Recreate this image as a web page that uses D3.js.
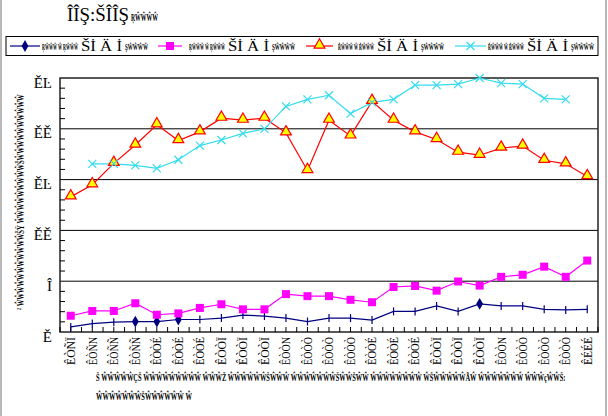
<!DOCTYPE html>
<html><head><meta charset="utf-8">
<script src="https://cdn.jsdelivr.net/npm/d3@7"></script>
<style>
body{margin:0;background:#fff;}
svg{display:block;}
text{font-family:"Liberation Serif","DejaVu Serif",serif;fill:#000;}
</style></head>
<body><svg id="c" width="608" height="416"></svg>
<script>
// ---- data ----
const categories = ["ÊÒÑÏ","ÊÒÑN","ÊÒÑÑ","ÊÒÑÑ","ÊÒÒÉ","ÊÒÒÉ","ÊÒÒÉ","ÊÒÒÏ","ÊÒÒÏ","ÊÒÒÏ","ÊÒÒN","ÊÒÒÒ","ÊÒÒÒ","ÊÒÒÒ","ÊÒÒÉ","ÊÒÒÉ","ÊÒÒÉ","ÊÒÒÏ","ÊÒÒÏ","ÊÒÒÏ","ÊÒÒN","ÊÒÒÒ","ÊÒÒÒ","ÊÒÒÒ","ÊÉÉÉ"];
const seriesNames = ["ŖŴŴŴ Ŵ ŖŴŴŴ","ŖŴŴŴ Ŵ ŖŴŴŴ","ŘŴŴŴ Ŵ ŘŴŴŴ","ŘŴŴŴ Ŵ ŘŴŴŴ"];
const blueValues = [0.5,0.83,0.97,1.03,1.03,1.23,1.23,1.37,1.67,1.57,1.37,1.03,1.37,1.37,1.17,2.03,2.03,2.57,2.03,2.77,2.57,2.57,2.23,2.17,2.23];
const blueMarkers = [0,0,0,1,1,1,0,0,0,0,0,0,0,0,0,0,0,0,0,1,0,0,0,0,0]; // 1 = diamond, 0 = bar
const pinkValues = [1.6,2.07,2.07,2.83,1.7,1.83,2.37,2.73,2.23,2.23,3.73,3.53,3.53,3.17,2.93,4.43,4.53,4.07,4.97,4.57,5.43,5.63,6.43,5.43,7.03];
const redValues = [13.3,14.5,16.6,18.4,20.4,18.85,19.7,21.05,20.85,21.05,19.6,15.9,20.85,19.3,22.7,20.85,19.7,18.95,17.7,17.4,18.1,18.3,16.9,16.55,15.3];
const cyanValues = [null,16.55,16.55,16.4,16.1,16.95,18.35,18.9,19.55,20.0,22.2,22.9,23.3,21.5,22.6,22.9,24.3,24.3,24.4,25.0,24.5,24.4,23.0,22.9,null];
const yTicks = [0,5,10,15,20,25];
const yTickLabels = ["Ě","Î","ĚĚ","ĚĿ","ĚĚ","ĚĿ"];

const svg = d3.select("#c");
const L=60,R=598,T=78,B=332;
const x = d3.scaleBand().domain(d3.range(categories.length)).range([L,R]);
const cx = i => x(i)+x.bandwidth()/2;
const y = d3.scaleLinear().domain([0,25]).range([B,T]);

// place a text squeezed horizontally to a given width (x,y = start of baseline, rot = rotation)
function fitText(str, px, py, width, size, bold, rot){
  const g = svg.append("g").attr("transform",`translate(${px},${py}) rotate(${rot||0})`);
  const t = g.append("text").attr("font-size",size).attr("font-weight",bold?"bold":"normal").text(str);
  const nat = t.node().getComputedTextLength();
  t.attr("transform",`scale(${width/nat},1)`);
  return t;
}

// outer frame
svg.append("line").attr("x1",1).attr("x2",1).attr("y1",0).attr("y2",416).attr("stroke","#b8b8b8").attr("stroke-width",2);
svg.append("line").attr("x1",606).attr("x2",606).attr("y1",0).attr("y2",416).attr("stroke","#b8b8b8").attr("stroke-width",2);

// gridlines
svg.append("g").selectAll("line").data(yTicks.filter(v=>v>0&&v<25)).join("line")
  .attr("x1",L).attr("x2",R).attr("y1",d=>y(d)).attr("y2",d=>y(d)).attr("stroke","#000").attr("stroke-width",1);

// plot border
svg.append("rect").attr("x",L).attr("y",T).attr("width",R-L).attr("height",B-T)
  .attr("fill","none").attr("stroke","#222").attr("stroke-width",1.5);

// y minor ticks (inward)
const yMinor = d3.range(1,25).filter(v=>v%5!==0);
svg.append("g").selectAll("line").data(yMinor).join("line")
  .attr("x1",L).attr("x2",L+5).attr("y1",d=>y(d)).attr("y2",d=>y(d)).attr("stroke","#000");

// y axis labels
const yAxis = d3.axisLeft(y).tickValues(yTicks).tickSize(0).tickPadding(8)
  .tickFormat((d,i)=>yTickLabels[i]);
const gy = svg.append("g").attr("transform",`translate(${L},0)`).call(yAxis);
gy.select(".domain").remove();
gy.selectAll("text").attr("font-size",15).attr("dy","0.6em").style("font-family","Liberation Serif");

// x minor ticks (half band, inward)
const xTickPos = d3.range(0, categories.length*2+1).map(k=>L + k*x.bandwidth()/2);
svg.append("g").selectAll("line").data(xTickPos).join("line")
  .attr("x1",d=>d).attr("x2",d=>d).attr("y1",B).attr("y2",B-5).attr("stroke","#000");

// x labels
const xAxis = d3.axisBottom(x).tickSize(0).tickFormat((d,i)=>categories[i]);
const gx = svg.append("g").attr("transform",`translate(0,${B})`).call(xAxis);
gx.select(".domain").remove();
gx.selectAll("text").attr("transform","rotate(-90)").attr("text-anchor","end")
  .attr("x",-5).attr("y",0).attr("dy","0.35em").attr("font-size",12.5)
  .attr("textLength",28).attr("lengthAdjust","spacingAndGlyphs");

// lines
const line = d3.line().defined(d=>d.v!=null).x(d=>cx(d.i)).y(d=>y(d.v));
const toPts = arr => arr.map((v,i)=>({i,v}));
const colors = ["#000080","#ff00ff","#ff0000","#33dcee"];
[blueValues,pinkValues,redValues,cyanValues].forEach((arr,k)=>{
  svg.append("path").datum(toPts(arr)).attr("d",line).attr("fill","none")
    .attr("stroke",colors[k]).attr("stroke-width",1.2);
});

// markers: blue
toPts(blueValues).forEach(d=>{
  if(blueMarkers[d.i]){
    svg.append("path").attr("d",d3.symbol(d3.symbolDiamond,40)())
      .attr("transform",`translate(${cx(d.i)},${y(d.v)})`).attr("fill","#000080");
  } else {
    svg.append("line").attr("x1",cx(d.i)).attr("x2",cx(d.i)).attr("y1",y(d.v)-4).attr("y2",y(d.v)+4)
      .attr("stroke","#000080").attr("stroke-width",1.2);
  }
});
// pink squares
svg.append("g").selectAll("rect").data(toPts(pinkValues)).join("rect")
  .attr("x",d=>cx(d.i)-4).attr("y",d=>y(d.v)-4).attr("width",8).attr("height",8).attr("fill","#ff00ff");
// red triangles
svg.append("g").selectAll("path").data(toPts(redValues)).join("path")
  .attr("d",d3.symbol(d3.symbolTriangle,50)())
  .attr("transform",d=>`translate(${cx(d.i)},${y(d.v)-1})`)
  .attr("fill","#ffff00").attr("stroke","#ff0000").attr("stroke-width",1.2);
// cyan x
const xs = 4;
svg.append("g").selectAll("path").data(toPts(cyanValues).filter(d=>d.v!=null)).join("path")
  .attr("d",d=>`M${cx(d.i)-xs},${y(d.v)-xs}L${cx(d.i)+xs},${y(d.v)+xs}M${cx(d.i)-xs},${y(d.v)+xs}L${cx(d.i)+xs},${y(d.v)-xs}`)
  .attr("stroke","#33dcee").attr("stroke-width",1.2);

// title
fitText("ÎÎŞ:ŠÎÎŞ", 67, 21, 62, 19, false);
fitText("ŖŴŴŴŴ", 131, 21, 27, 11, true);

// legend
svg.append("rect").attr("x",6).attr("y",36.5).attr("width",592).attr("height",19).attr("fill","none").attr("stroke","#000").attr("stroke-width",1);
const legItems = [
  {x1:10,x2:40,tx:42},
  {x1:158,x2:182,tx:189},
  {x1:306,x2:333,tx:338},
  {x1:455,x2:486,tx:488}
];
legItems.forEach((it,k)=>{
  const my = 46;
  svg.append("line").attr("x1",it.x1).attr("x2",it.x2).attr("y1",my).attr("y2",my).attr("stroke",colors[k]).attr("stroke-width",1.2);
  const mx=(it.x1+it.x2)/2;
  if(k===0) svg.append("path").attr("d",d3.symbol(d3.symbolDiamond,40)()).attr("transform",`translate(${mx},${my})`).attr("fill","#000080");
  if(k===1) svg.append("rect").attr("x",mx-4).attr("y",my-4).attr("width",8).attr("height",8).attr("fill","#ff00ff");
  if(k===2) svg.append("path").attr("d",d3.symbol(d3.symbolTriangle,50)()).attr("transform",`translate(${mx},${my-1})`).attr("fill","#ffff00").attr("stroke","#ff0000").attr("stroke-width",1.2);
  if(k===3) svg.append("path").attr("d",`M${mx-4},${my-4}L${mx+4},${my+4}M${mx-4},${my+4}L${mx+4},${my-4}`).attr("stroke","#33dcee").attr("stroke-width",1.2);
  fitText(seriesNames[k], it.tx, 50, 36, 9, true);
  fitText("Šİ Ä İ", it.tx+39, 51, 41, 14, false);
  fitText("ŞŴŴŴŴ", it.tx+83, 50, 23, 9, true);
});

// y axis title
fitText("² ŴŴŴŴŴŴŴŴŴŴŴŠŸ ŴŴŴŴŴŴŴŴŴŠŴŴŴŴŴŴŴŴŴŴ", 24, 310, 216, 10, true, -90);

// x axis title
fitText("Š ŴŴŴŴŴÇŠ ŴŴŴŴŴŴŴŴŴ ŴŴŴŽ ŴŴŴŴŴŴŠŴŴŴ ŴŴŴŴŴŴŴŠŴŴŠŴŴ ŴŴŴŴŴŴŴŴ ŴŠŴŴŴŴŴÃŴ ŴŴŴŴŴŴŴ ŴŴŴçŴŴŠ:", 96, 381, 470, 11, true);
fitText("ŴŴŴŴŴŴŴŠŴŴŴŴŴŴ Ŵ", 96, 400, 96, 11, true);
</script></body></html>
